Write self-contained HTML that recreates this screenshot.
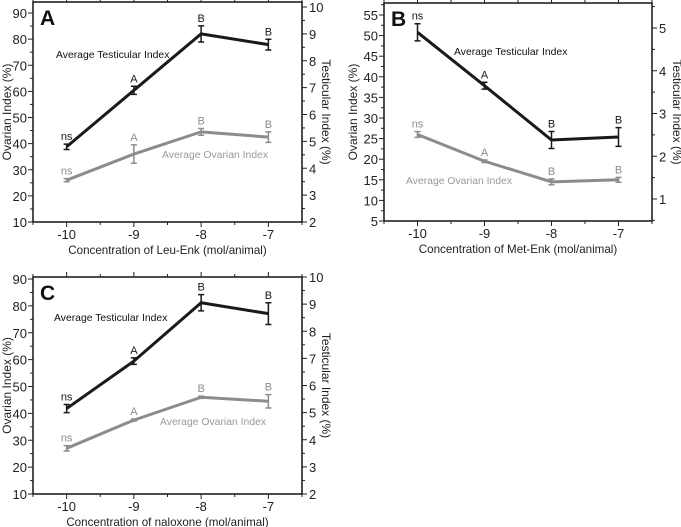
<!DOCTYPE html>
<html><head><meta charset="utf-8"><style>
html,body{margin:0;padding:0;background:#fff;}
svg{display:block;font-family:"Liberation Sans",Arial,sans-serif;}
</style></head><body>
<svg id="fig" width="681" height="527"></svg>
<script>
const xCats=[-10,-9,-8,-7];
const aTestis=[4.8,6.9,9.0,8.6];
const aTestisErr=[0.1,0.15,0.3,0.2];
const aOvary=[26,36,44.5,42.5];
const aOvaryErr=[0.6,3.5,1.3,2];
const bTestis=[4.9,3.65,2.38,2.45];
const bTestisErr=[0.2,0.08,0.2,0.22];
const bOvary=[26,19.5,14.5,15];
const bOvaryErr=[0.7,0.3,0.7,0.6];
const cTestis=[5.15,6.9,9.05,8.65];
const cTestisErr=[0.15,0.12,0.3,0.4];
const cOvary=[27,37.5,46,44.5];
const cOvaryErr=[1,0.4,0.4,2.5];
const sigLabels=["ns","A","B","B"];
const aLeftTicks=[10,20,30,40,50,60,70,80,90];
const aRightTicks=[2,3,4,5,6,7,8,9,10];
const bLeftTicks=[5,10,15,20,25,30,35,40,45,50,55];
const bRightTicks=[1,2,3,4,5];

const NS="http://www.w3.org/2000/svg";
const svg=document.getElementById('fig');
function el(tag,attrs,parent,text){const e=document.createElementNS(NS,tag);for(const k in attrs)e.setAttribute(k,attrs[k]);if(text!==undefined)e.textContent=text;(parent||svg).appendChild(e);return e;}

function panel(p){
  const g=el('g',{});
  
  
  const X=v=>p.x0+(v-(-10.5))/4*(p.x1-p.x0);
  const YR=v=>p.yrb-(v-p.r0)/(p.r1-p.r0)*(p.yrb-p.yrt);
  const yl=v=>p.yb-(v-p.l0)/(p.l1-p.l0)*(p.yb-p.ylt);
  const box=el('rect',{x:p.x0,y:p.yt,width:p.x1-p.x0,height:p.yb-p.yt,fill:'none',stroke:'#222','stroke-width':1.6},g);
  
  
  for(let v=-10.5;v<=-6.5;v+=0.5){const x=X(v);const major=Number.isInteger(v);const L=major?5:3;
    el('line',{x1:x,x2:x,y1:p.yb,y2:p.yb+L,stroke:'#222'},g);el('line',{x1:x,x2:x,y1:p.yt,y2:p.yt-L,stroke:'#222'},g);}
  xCats.forEach(v=>{const t=el('text',{x:X(v),y:p.yb+17,'text-anchor':'middle','font-size':13,fill:'#222'},g,String(v));
    });
  const xt=el('text',{x:(p.x0+p.x1)/2,y:p.yb+32,'text-anchor':'middle','font-size':11.6,fill:'#222'},g,p.xtitle);
  
  const ls=p.lt[1]-p.lt[0];
  p.lt.forEach(v=>{const y=yl(v);el('line',{x1:p.x0-5,x2:p.x0,y1:y,y2:y,stroke:'#222'},g);
    const m=yl(v+ls/2);if(m>p.yt)el('line',{x1:p.x0-3,x2:p.x0,y1:m,y2:m,stroke:'#222'},g);
    const t=el('text',{x:p.x0-6,y:y+5,'text-anchor':'end','font-size':13,fill:'#222'},g,String(v));
    });
  const rs=p.rt[1]-p.rt[0];
  const lo=p.r0-rs, hi=p.rt[p.rt.length-1]+rs;
  for(let v=lo;v<=hi+1e-9;v+=rs/2){const y=YR(v);if(y<p.yt||y>p.yb)continue;
    const major=p.rt.some(t=>Math.abs(t-v)<1e-9);
    el('line',{x1:p.x1,x2:p.x1+(major?5:3),y1:y,y2:y,stroke:'#222'},g);}
  p.rt.forEach(v=>{const y=YR(v);
    const t=el('text',{x:p.x1+7,y:y+5,'font-size':13,fill:'#222'},g,String(v));
    });
  const cy=(p.yt+p.yb)/2;
  const lt=el('text',{x:p.ylx,y:cy,'text-anchor':'middle','font-size':12,fill:'#222',transform:`rotate(-90 ${p.ylx} ${cy})`},g,'Ovarian Index (%)');
  
  const rt=el('text',{x:p.yrx,y:cy,'text-anchor':'middle','font-size':12,fill:'#222',transform:`rotate(90 ${p.yrx} ${cy})`},g,'Testicular Index (%)');
  
  const pl=el('text',{x:p.x0+7,y:p.yt+23,'font-size':21,'font-weight':'bold',fill:'#111'},g,p.id);
  
  function series(vals,errs,yf,color,name){
    const pts=xCats.map((c,i)=>X(c)+','+yf(vals[i])).join(' ');
    const line=el('polyline',{points:pts,fill:'none',stroke:color,'stroke-width':3},g);
    
    xCats.forEach((c,i)=>{const x=X(c),yt=yf(vals[i]+errs[i]),yb=yf(vals[i]-errs[i]);
      const eb=el('path',{d:`M${x},${yt}V${yb}M${x-3},${yt}H${x+3}M${x-3},${yb}H${x+3}`,stroke:color,'stroke-width':1.5,fill:'none'},g);
      
      const s=el('text',{x:x,y:yt-4,'text-anchor':'middle','font-size':11,fill:color},g,sigLabels[i]);
      });
  }
  series(p.ov,p.ove,yl,'#8c8c8c','ovarian');
  series(p.te,p.tee,YR,'#1a1a1a','testicular');
  const l1=el('text',{x:p.tlx,y:p.tly,'font-size':10.4,fill:'#111'},g,'Average Testicular Index');
  
  const l2=el('text',{x:p.olx,y:p.oly,'font-size':10.4,fill:'#999'},g,'Average Ovarian Index');
  
}
panel({id:'A',x0:33,x1:302,yt:2,yb:222,ylt:13,l0:10,l1:90,r0:2,r1:10,yrb:222,yrt:7,lt:aLeftTicks,rt:aRightTicks,
  ov:aOvary,ove:aOvaryErr,te:aTestis,tee:aTestisErr,xtitle:'Concentration of Leu-Enk (mol/animal)',ylx:11,yrx:322,tlx:56,tly:58,olx:162,oly:158});
panel({id:'B',x0:384,x1:652,yt:3,yb:221,ylt:15,l0:5,l1:55,r0:1,r1:5,yrb:199,yrt:28,lt:bLeftTicks,rt:bRightTicks,
  ov:bOvary,ove:bOvaryErr,te:bTestis,tee:bTestisErr,xtitle:'Concentration of Met-Enk (mol/animal)',ylx:357,yrx:673,tlx:454,tly:55,olx:406,oly:184});
panel({id:'C',x0:33,x1:302,yt:277,yb:494,ylt:279,l0:10,l1:90,r0:2,r1:10,yrb:494,yrt:277,lt:aLeftTicks,rt:aRightTicks,
  ov:cOvary,ove:cOvaryErr,te:cTestis,tee:cTestisErr,xtitle:'Concentration of naloxone (mol/animal)',ylx:11,yrx:322,tlx:54,tly:321,olx:160,oly:425});
</script>
</body></html>
